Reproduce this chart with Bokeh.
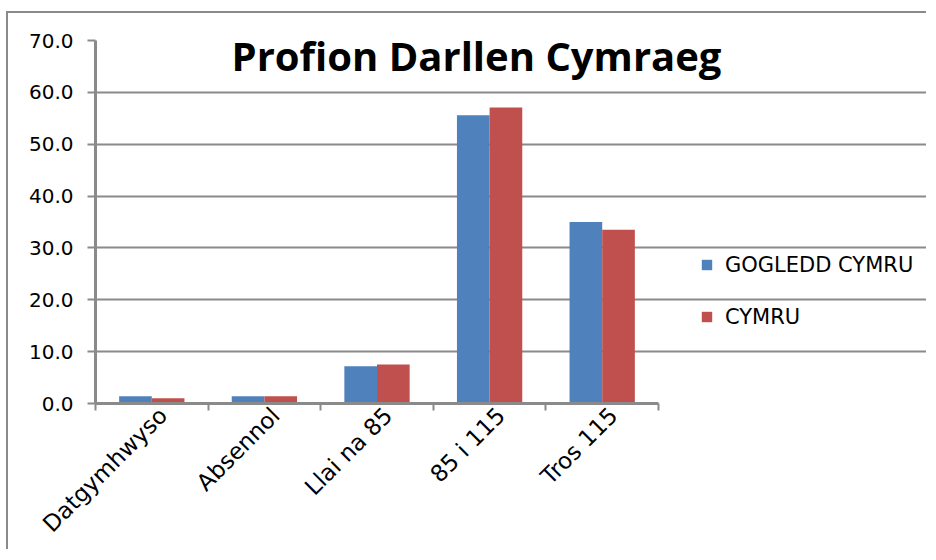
from math import pi
from bokeh.plotting import figure
from bokeh.models import (Range1d, LinearAxis, FixedTicker, NumeralTickFormatter,
                          Legend, LegendItem, Label, ColumnDataSource)
from bokeh.embed import file_html
from bokeh.resources import INLINE

# ---- data ----
categories = ["Datgymhwyso", "Absennol", "Llai na 85", "85 i 115", "Tros 115"]
gogledd_cymru = [1.4, 1.4, 7.2, 55.6, 35.0]
cymru = [1.0, 1.4, 7.5, 57.1, 33.5]
series_names = ["GOGLEDD CYMRU", "CYMRU"]
y_ticks = [0, 10, 20, 30, 40, 50, 60, 70]
title_text = "Profion Darllen Cymraeg"

BLUE = "#4F81BD"
RED = "#C0504D"
GREY = "#8a8a8a"
FONT = "DejaVu Sans"
BAR_W = 0.29

# layout constants (pixels)
FIG_W, FIG_H = 920, 538
LEFT, TOP, BOTTOM = 87, 27, 148
PLOT_AREA_W = 563            # width of the gridded plot area
FRAME_W = FIG_W - LEFT       # frame runs to the right edge; legend sits in it

n = len(categories)
x_end = n * FRAME_W / PLOT_AREA_W
centers = [i + 0.5 for i in range(n)]
source = ColumnDataSource(dict(
    xa=[c - BAR_W / 2 for c in centers], xb=[c + BAR_W / 2 for c in centers],
    a=gogledd_cymru, b=cymru))

p = figure(width=FIG_W, height=FIG_H, x_range=Range1d(0, x_end),
           y_range=Range1d(0, 70), x_axis_location=None,
           output_backend="svg", toolbar_location=None,
           min_border_left=LEFT, min_border_top=TOP, min_border_right=0,
           min_border_bottom=BOTTOM)
p.styles = {"border-top": "2px solid " + GREY, "border-left": "2px solid " + GREY,
            "margin-left": "6px", "margin-top": "11px"}
p.outline_line_color = None
p.background_fill_color = "white"
p.border_fill_color = "white"

# bars
r1 = p.vbar(x="xa", top="a", width=BAR_W, source=source, fill_color=BLUE, line_color=None)
r2 = p.vbar(x="xb", top="b", width=BAR_W, source=source, fill_color=RED, line_color=None)

# y axis
ya = p.yaxis[0]
ya.ticker = FixedTicker(ticks=y_ticks)
ya.formatter = NumeralTickFormatter(format="0.0")
ya.axis_line_color = GREY
ya.axis_line_width = 3
ya.major_tick_line_color = GREY
ya.major_tick_line_width = 2
ya.major_tick_out = 8
ya.major_tick_in = 0
ya.minor_tick_line_color = None
ya.major_label_text_font = FONT
ya.major_label_text_font_size = "20px"
ya.major_label_text_color = "black"
ya.major_label_standoff = 14

p.ygrid.ticker = FixedTicker(ticks=y_ticks)
p.ygrid.grid_line_color = GREY
p.ygrid.grid_line_width = 2
p.ygrid.bounds = (0, n)
p.xgrid.grid_line_color = None

# x axis: labels near category centres, tick marks (minor ticks) at category boundaries
LABEL_SHIFT = 0.1
label_ticks = [c + LABEL_SHIFT for c in centers]
xa = LinearAxis(ticker=FixedTicker(ticks=label_ticks, minor_ticks=list(range(n + 1))),
                bounds=(0, n),
                major_label_overrides={t: lab for t, lab in zip(label_ticks, categories)},
                axis_line_color=GREY, axis_line_width=3,
                major_tick_line_color=None, major_tick_out=7, major_tick_in=0,
                minor_tick_line_color=GREY, minor_tick_line_width=2,
                minor_tick_out=7, minor_tick_in=0,
                major_label_orientation=pi / 4,
                major_label_text_font=FONT,
                major_label_text_font_size="23px",
                major_label_text_color="black",
                major_label_standoff=1)
p.add_layout(xa, "below")

# legend (beside the gridded area)
legend = Legend(items=[LegendItem(label=series_names[0], renderers=[r1]),
                       LegendItem(label=series_names[1], renderers=[r2])],
                location=(605, 74), orientation="vertical",
                border_line_color=None, background_fill_alpha=0,
                padding=0, margin=0, spacing=27,
                glyph_width=13, glyph_height=13, label_height=25,
                label_standoff=12, label_text_font=FONT,
                label_text_font_size="21px", label_text_color="black")
p.add_layout(legend)

# title drawn over the plot area
title = Label(x=381, y=348, x_units="screen", y_units="screen", text=title_text,
              text_align="center", text_baseline="alphabetic",
              text_font="Open Sans", text_font_style="bold", text_font_size="40px",
              text_color="black")
p.add_layout(title)

open("out.html", "w").write(file_html(p, INLINE))
